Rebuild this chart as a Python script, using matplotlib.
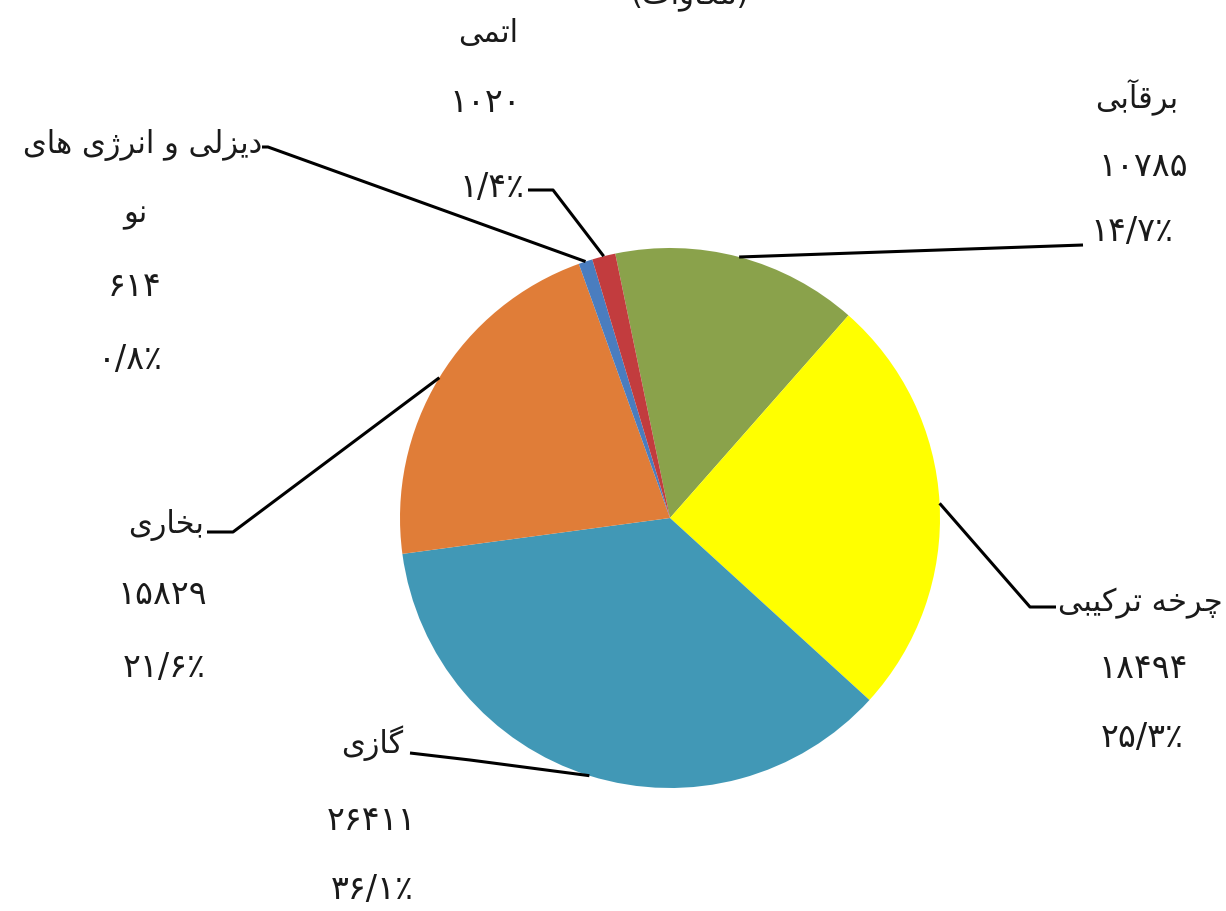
import matplotlib.pyplot as plt
import numpy as np

plt.rcParams['font.family'] = ['DejaVu Sans']

W, H = 1226, 911

# installed capacity by plant type (MW)
names = ['برقآبی', 'چرخه ترکیبی', 'گازی', 'بخاری', 'دیزلی و انرژی های\nنو', 'اتمی']
capacity = [10785, 18494, 26411, 15829, 614, 1020]
share = [14.7, 25.3, 36.1, 21.6, 0.8, 1.4]
colors = ['#8AA24B', '#FFFF00', '#4198B6', '#E07D38', '#4A7DBF', '#C23C3E']
title = '(مگاوات)'

# contextual forms: isolated, final, initial, medial
FORMS = {
    'ا': ('\uFE8D', '\uFE8E', None, None),
    'آ': ('\uFE81', '\uFE82', None, None),
    'ب': ('\uFE8F', '\uFE90', '\uFE91', '\uFE92'),
    'ت': ('\uFE95', '\uFE96', '\uFE97', '\uFE98'),
    'خ': ('\uFEA5', '\uFEA6', '\uFEA7', '\uFEA8'),
    'د': ('\uFEA9', '\uFEAA', None, None),
    'ر': ('\uFEAD', '\uFEAE', None, None),
    'ز': ('\uFEAF', '\uFEB0', None, None),
    'ژ': ('\uFB8A', '\uFB8B', None, None),
    'ق': ('\uFED5', '\uFED6', '\uFED7', '\uFED8'),
    'ل': ('\uFEDD', '\uFEDE', '\uFEDF', '\uFEE0'),
    'م': ('\uFEE1', '\uFEE2', '\uFEE3', '\uFEE4'),
    'ن': ('\uFEE5', '\uFEE6', '\uFEE7', '\uFEE8'),
    'ه': ('\uFEE9', '\uFEEA', '\uFEEB', '\uFEEC'),
    'و': ('\uFEED', '\uFEEE', None, None),
    'ی': ('\uFEEF', '\uFEF0', '\uFEF3', '\uFEF4'),
    'چ': ('\uFB7A', '\uFB7B', '\uFB7C', '\uFB7D'),
    'ک': ('\uFB8E', '\uFB8F', '\uFB90', '\uFB91'),
    'گ': ('\uFB92', '\uFB93', '\uFB94', '\uFB95'),
}


def shape(text):
    out = []
    for i, ch in enumerate(text):
        if ch not in FORMS:
            out.append(ch)
            continue
        iso, fin, ini, med = FORMS[ch]
        prev = text[i - 1] if i > 0 else ''
        nxt = text[i + 1] if i + 1 < len(text) else ''
        join_prev = prev in FORMS and FORMS[prev][2] is not None
        join_next = ini is not None and nxt in FORMS
        if join_prev and join_next:
            out.append(med)
        elif join_prev:
            out.append(fin)
        elif join_next:
            out.append(ini)
        else:
            out.append(iso)
    s = ''.join(out)[::-1]
    return s.translate(str.maketrans('()', ')('))


def fa(v):
    return str(v).translate(str.maketrans('0123456789.', '۰۱۲۳۴۵۶۷۸۹/'))


def Y(y):
    return H - y


cx, cy, r = 670, 518, 270

fig = plt.figure(figsize=(W / 100, H / 100), dpi=100)
ax = fig.add_axes([0, 0, 1, 1])
wedges, _ = ax.pie(capacity, colors=colors, startangle=101.7, counterclock=False,
                   center=(cx, Y(cy)), radius=r, wedgeprops=dict(linewidth=0))
ax.set_xlim(0, W)
ax.set_ylim(0, H)
ax.set_aspect('equal')
ax.axis('off')

# leader line bends (top-down pixels)
leaders = [
    [(1083, 245)],
    [(1030, 607), (1056, 607)],
    [(470, 760), (410, 753)],
    [(233, 532), (207, 532)],
    [(268, 147), (262, 147)],
    [(553, 190), (528, 190)],
]
# text rows per label: (x, y, ha)
rows = [
    [(1137, 97, 'center'), (1143, 167, 'center'), (1090, 232, 'left')],
    [(1058, 603, 'left'), (1143, 668, 'center'), (1142, 737, 'center')],
    [(403, 743, 'right'), (372, 820, 'center'), (372, 890, 'center')],
    [(204, 525, 'right'), (162, 595, 'center'), (164, 667, 'center')],
    [(262, 145, 'right'), (135, 216, 'center'), (135, 287, 'center'), (130, 360, 'center')],
    [(488, 33, 'center'), (485, 103, 'center'), (524, 187, 'right')],
]

for i, w in enumerate(wedges):
    mid = np.deg2rad((w.theta1 + w.theta2) / 2)
    pts = [(cx + r * np.cos(mid), Y(cy) + r * np.sin(mid))]
    pts += [(x, Y(y)) for x, y in leaders[i]]
    xs, ys = zip(*pts)
    ax.plot(xs, ys, color='black', lw=2.2, solid_capstyle='butt')

    name_lines = [shape(s) for s in names[i].split('\n')]
    lines = name_lines + [fa(capacity[i]), fa(share[i]) + '٪']
    sizes = [22] * len(name_lines) + [24, 24]
    for s, fs, (x, y, ha) in zip(lines, sizes, rows[i]):
        ax.text(x, Y(y), s, ha=ha, va='center', fontsize=fs, color='#1a1a1a')

fig.text(690 / W, 1 - 4 / H, shape(title), ha='center', va='baseline',
         fontsize=22, color='#1a1a1a')

fig.savefig('out.png', dpi=100, facecolor='white')
